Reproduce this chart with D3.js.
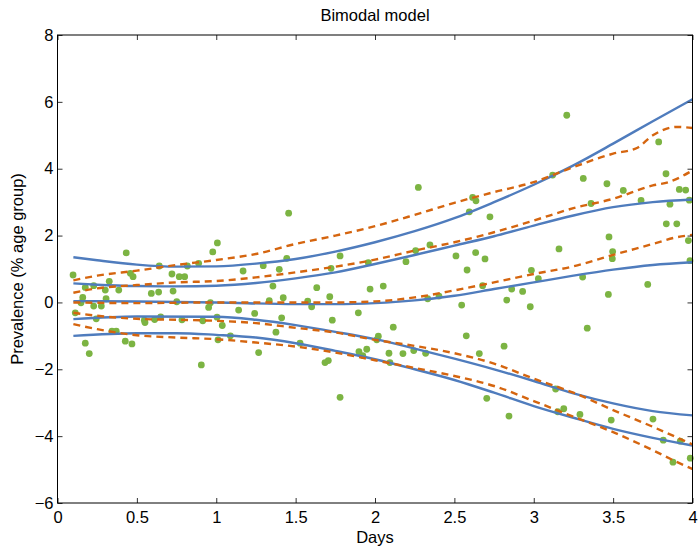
<!DOCTYPE html>
<html>
<head>
<meta charset="utf-8">
<script src="https://cdn.jsdelivr.net/npm/d3@7"></script>
<style>
  body { margin: 0; background: #fff; }
  text { font-family: "Liberation Sans", Arial, sans-serif; }
</style>
</head>
<body>
<div id="chart"></div>
<script>
// dimensions
const width = 699, height = 547;
const margin = {top: 35, right: 6.5, bottom: 44, left: 57.5};
const fontSize = 16.5;

// tick labels
const xTicks = [0, 0.5, 1, 1.5, 2, 2.5, 3, 3.5, 4];
const yTicks = [-6, -4, -2, 0, 2, 4, 6, 8];

// observed points [day, prevalence]
const points = [
  [0.098,0.82],[0.433,1.48],[1.007,1.78],[0.978,1.51],[0.175,0.45],[0.228,0.50],[0.326,0.63],
  [0.301,0.37],[0.386,0.37],[0.459,0.87],[0.476,0.77],[0.159,0.15],[0.148,-0.01],[0.306,0.11],
  [0.228,-0.11],[0.276,-0.11],[0.112,-0.31],[0.244,-0.49],[0.343,-0.86],[0.370,-0.86],[0.175,-1.22],
  [0.200,-1.53],[0.427,-1.16],[0.469,-1.24],[0.547,-0.53],[0.551,-0.60],[0.612,-0.51],[0.650,-0.43],
  [0.591,0.27],[0.637,0.31],[0.641,1.09],[0.721,0.85],[0.767,0.77],[0.801,0.77],[0.728,0.34],
  [0.751,0.02],[0.784,-0.52],[0.818,1.09],[0.889,1.17],[0.952,-0.15],[0.963,-0.01],[0.915,-0.55],
  [1.005,-0.44],[1.038,-0.69],[1.011,-1.12],[1.089,-1.00],[0.906,-1.87],[1.141,-0.23],[1.169,0.94],
  [1.242,-0.33],[1.267,-1.50],[1.296,1.10],[1.334,0.05],[1.357,0.49],[1.376,-0.89],[1.456,2.67],
  [1.444,1.32],[1.397,0.99],[1.780,1.39],[1.723,1.02],[2.273,3.44],[2.615,3.14],[2.636,3.04],
  [2.594,2.71],[2.724,2.56],[1.958,1.19],[2.346,1.72],[2.256,1.55],[2.195,1.22],[2.510,1.39],
  [2.634,1.49],[2.693,1.30],[2.580,0.97],[1.633,0.44],[1.969,0.40],[2.052,0.49],[1.715,0.17],
  [1.422,0.14],[1.576,0.04],[1.601,-0.13],[2.332,0.11],[2.403,0.19],[2.678,0.50],[2.546,-0.08],
  [1.895,-0.31],[1.412,-0.46],[1.731,-0.53],[2.115,-0.74],[1.528,-1.22],[2.021,-1.01],[2.011,-1.12],
  [2.575,-1.00],[1.899,-1.47],[1.923,-1.59],[1.948,-1.40],[2.088,-1.52],[2.094,-1.80],[2.176,-1.53],
  [2.244,-1.44],[2.319,-1.52],[2.657,-1.53],[1.685,-1.80],[1.706,-1.74],[1.780,-2.84],[2.704,-2.87],
  [3.208,5.60],[3.787,4.80],[3.119,3.81],[3.312,3.71],[3.461,3.55],[3.564,3.35],[3.833,3.85],
  [3.917,3.38],[3.957,3.36],[3.361,2.96],[3.676,3.05],[3.858,2.94],[3.980,3.06],[3.159,1.60],
  [3.474,1.96],[3.497,1.52],[3.495,1.31],[3.835,2.35],[3.901,2.35],[3.974,1.85],[3.984,1.25],
  [2.985,0.96],[3.029,0.71],[3.308,0.76],[2.861,0.40],[2.930,0.33],[2.830,0.07],[3.470,0.24],
  [3.718,0.54],[2.978,-0.13],[3.337,-0.77],[2.813,-1.31],[2.844,-3.40],[3.138,-2.59],[3.151,-3.27],
  [3.189,-3.18],[3.291,-3.35],[3.488,-3.52],[3.751,-3.49],[3.816,-4.12],[3.923,-4.15],[3.986,-4.66],
  [3.877,-4.78]
];

// model curves (solid)
const model1 = [[0.1,1.35],[0.25,1.26],[0.5,1.13],[0.75,1.07],[1.0,1.08],[1.25,1.16],[1.5,1.3],[1.75,1.52],[2.0,1.8],[2.25,2.13],[2.5,2.52],[2.75,3.0],[3.0,3.52],[3.25,4.1],[3.5,4.75],[3.75,5.42],[4.0,6.08]];
const model2 = [[0.1,0.57],[0.25,0.53],[0.5,0.49],[0.75,0.48],[1.0,0.5],[1.25,0.58],[1.5,0.72],[1.75,0.9],[2.0,1.15],[2.25,1.42],[2.5,1.7],[2.75,1.98],[3.0,2.3],[3.25,2.6],[3.5,2.85],[3.75,3.0],[4.0,3.08]];
const model3 = [[0.1,0.04],[0.5,0.03],[1.0,0.0],[1.5,-0.05],[1.75,-0.05],[2.0,-0.02],[2.25,0.06],[2.5,0.2],[2.75,0.4],[3.0,0.6],[3.25,0.8],[3.5,0.98],[3.75,1.12],[4.0,1.2]];
const model4 = [[0.1,-0.5],[0.5,-0.42],[1.0,-0.43],[1.25,-0.52],[1.5,-0.68],[1.75,-0.88],[2.0,-1.1],[2.25,-1.38],[2.5,-1.68],[2.75,-2.0],[3.0,-2.35],[3.25,-2.72],[3.5,-3.02],[3.75,-3.25],[4.0,-3.38]];
const model5 = [[0.1,-1.0],[0.5,-0.92],[0.75,-0.92],[1.0,-0.97],[1.25,-1.05],[1.5,-1.22],[1.75,-1.45],[2.0,-1.7],[2.25,-2.0],[2.5,-2.32],[2.75,-2.7],[3.0,-3.1],[3.25,-3.45],[3.5,-3.78],[3.75,-4.05],[4.0,-4.28]];

// empirical curves (dashed)
const emp1 = [[0.1,0.66],[0.25,0.8],[0.5,0.95],[0.75,1.12],[1.0,1.27],[1.25,1.45],[1.5,1.75],[1.75,2.0],[2.0,2.28],[2.25,2.62],[2.5,2.98],[2.75,3.3],[3.0,3.6],[3.25,4.05],[3.5,4.45],[3.65,4.62],[3.75,5.0],[3.9,5.25],[4.0,5.22]];
const emp2 = [[0.1,0.29],[0.25,0.42],[0.5,0.52],[0.75,0.6],[1.0,0.64],[1.25,0.75],[1.5,0.9],[1.75,1.07],[2.0,1.28],[2.25,1.55],[2.5,1.8],[2.75,2.1],[3.0,2.45],[3.25,2.82],[3.5,3.1],[3.75,3.5],[3.85,3.6],[4.0,3.95]];
const emp3 = [[0.1,0.0],[0.5,-0.02],[1.0,0.0],[1.5,0.0],[1.75,0.0],[2.0,0.03],[2.25,0.15],[2.5,0.36],[2.75,0.6],[3.0,0.85],[3.25,1.08],[3.5,1.42],[3.75,1.75],[3.9,1.95],[4.0,2.02]];
const emp4 = [[0.1,-0.31],[0.25,-0.4],[0.5,-0.49],[0.75,-0.52],[1.0,-0.55],[1.25,-0.62],[1.5,-0.76],[1.75,-0.9],[2.0,-1.12],[2.25,-1.3],[2.5,-1.52],[2.75,-1.83],[3.0,-2.28],[3.25,-2.7],[3.5,-3.22],[3.75,-3.72],[4.0,-4.25]];
const emp5 = [[0.1,-0.65],[0.25,-0.8],[0.5,-0.98],[0.75,-1.05],[1.0,-1.1],[1.25,-1.2],[1.5,-1.32],[1.75,-1.5],[2.0,-1.73],[2.25,-1.96],[2.5,-2.2],[2.75,-2.5],[3.0,-2.95],[3.25,-3.42],[3.5,-3.88],[3.75,-4.42],[3.9,-4.77],[4.0,-4.98]];

const models = [model1, model2, model3, model4, model5];
const emps = [emp1, emp2, emp3, emp4, emp5];

// scales
const x = d3.scaleLinear().domain([0, 4]).range([margin.left, width - margin.right]);
const y = d3.scaleLinear().domain([-6, 8]).range([height - margin.bottom, margin.top]);

const svg = d3.select("#chart").append("svg")
    .attr("width", width)
    .attr("height", height);

const line = d3.line()
    .x(d => x(d[0]))
    .y(d => y(d[1]))
    .curve(d3.curveMonotoneX);

// points first, lines over them
svg.append("g").selectAll("circle")
    .data(points)
    .join("circle")
    .attr("cx", d => x(d[0]))
    .attr("cy", d => y(d[1]))
    .attr("r", 3.4)
    .attr("fill", "#7cb443");

svg.append("g").selectAll("path")
    .data(models)
    .join("path")
    .attr("d", line)
    .attr("fill", "none")
    .attr("stroke", "#4f7cbd")
    .attr("stroke-width", 2.4);

svg.append("g").selectAll("path")
    .data(emps)
    .join("path")
    .attr("d", line)
    .attr("fill", "none")
    .attr("stroke", "#d5650f")
    .attr("stroke-width", 2.4)
    .attr("stroke-dasharray", "7,5");

// axes, ticks pointing inward, box on all sides
const xBottom = d3.axisBottom(x).tickValues(xTicks).tickSize(-5).tickPadding(8).tickFormat(d3.format(""));
const xTop = d3.axisTop(x).tickValues(xTicks).tickSize(-5).tickFormat("");
const yLeft = d3.axisLeft(y).tickValues(yTicks).tickSize(-5).tickPadding(4).tickFormat(d3.format("d"));
const yRight = d3.axisRight(y).tickValues(yTicks).tickSize(-5).tickFormat("");

const styleAxis = g => {
  g.select(".domain").remove();
  g.selectAll(".tick line").attr("stroke", "#333");
  g.selectAll(".tick text").attr("font-size", fontSize).attr("fill", "#000")
    .attr("font-family", "'Liberation Sans', Arial, sans-serif");
};

svg.append("g").attr("transform", `translate(0,${height - margin.bottom})`).call(xBottom).call(styleAxis);
svg.append("g").attr("transform", `translate(0,${margin.top})`).call(xTop).call(styleAxis);
svg.append("g").attr("transform", `translate(${margin.left},0)`).call(yLeft).call(styleAxis);
svg.append("g").attr("transform", `translate(${width - margin.right},0)`).call(yRight).call(styleAxis);

svg.append("rect")
    .attr("x", margin.left)
    .attr("y", margin.top)
    .attr("width", width - margin.left - margin.right)
    .attr("height", height - margin.top - margin.bottom)
    .attr("fill", "none")
    .attr("stroke", "#000")
    .attr("stroke-width", 1);

// titles
svg.append("text")
    .attr("x", (margin.left + width - margin.right) / 2)
    .attr("y", 21)
    .attr("text-anchor", "middle")
    .attr("font-size", fontSize)
    .text("Bimodal model");

svg.append("text")
    .attr("x", (margin.left + width - margin.right) / 2)
    .attr("y", 543)
    .attr("text-anchor", "middle")
    .attr("font-size", fontSize)
    .text("Days");

svg.append("text")
    .attr("transform", `translate(23,${(margin.top + height - margin.bottom) / 2}) rotate(-90)`)
    .attr("text-anchor", "middle")
    .attr("font-size", fontSize)
    .text("Prevalence (% age group)");
</script>
</body>
</html>
